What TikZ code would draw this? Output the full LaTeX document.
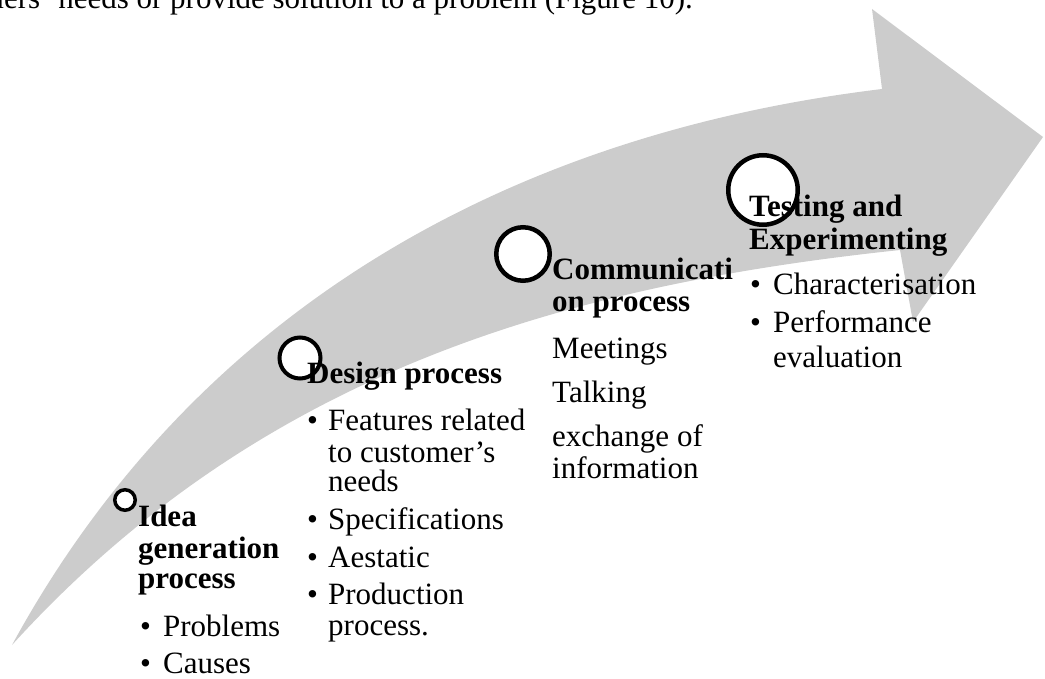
\documentclass[tikz,border=0pt]{standalone}
\usepackage{fontspec}
\setmainfont{Liberation Serif}
\definecolor{arrowgray}{RGB}{204,204,204}
\begin{document}
\begin{tikzpicture}[x=1pt,y=-1pt,
  txt/.style={anchor=base west, inner sep=0pt, font=\fontsize{31}{31}\selectfont},
  ttl/.style={txt, font=\fontsize{31}{31}\selectfont\bfseries},
  dot/.style={circle, draw=black, fill=white, inner sep=0pt}]
\useasboundingbox (0,0) rectangle (1045,679);
\clip (0,0) rectangle (1045,679);
% big curved arrow
\fill[arrowgray] (12,645) .. controls (192,315) and (502,135) .. (882,89)
  -- (872,9) -- (1043,137) -- (913,322) -- (900,250)
  .. controls (570,285) and (262,370) .. (12,645) -- cycle;
% circles
\node[dot, line width=3.5pt, minimum size=20.5pt] (c1) at (125,500) {};
\node[dot, line width=4pt, minimum size=41pt] (c2) at (300,358) {};
\node[dot, line width=4.5pt, minimum size=53.5pt] (c3) at (523,254) {};
\node[dot, line width=4.5pt, minimum size=69.5pt] (c4) at (763,190) {};
% top text line (cut at the top edge, as in the reference)
\node[txt, anchor=base east] (top) at (693,9) {customers’ needs or provide solution to a problem (Figure 10).};
% Idea generation
\node[ttl] (i1) at (138,526) {Idea};
\node[ttl] (i2) at (138,558) {generation};
\node[ttl] (i3) at (138,588) {process};
\node[txt] (i4) at (140,636) {\makebox[23pt][l]{\textbullet}Problems};
\node[txt] (i5) at (140,673) {\makebox[23pt][l]{\textbullet}Causes};
% Design
\node[ttl] (d1) at (307,383) {Design process};
\node[txt] (d2) at (307,430) {\makebox[21pt][l]{\textbullet}Features related};
\node[txt] (d3) at (328,462) {to customer’s};
\node[txt] (d4) at (328,491) {needs};
\node[txt] (d5) at (307,529) {\makebox[21pt][l]{\textbullet}Specifications};
\node[txt] (d6) at (307,567) {\makebox[21pt][l]{\textbullet}Aestatic};
\node[txt] (d7) at (307,604) {\makebox[21pt][l]{\textbullet}Production};
\node[txt] (d8) at (328,635) {process.};
% Communication
\node[ttl] (m1) at (552,280) {Communicati};
\node[ttl] (m2) at (552,312) {on process};
\node[txt] (m3) at (552,359) {Meetings};
\node[txt] (m4) at (552,402) {Talking};
\node[txt] (m5) at (552,446) {exchange of};
\node[txt] (m6) at (552,478) {information};
% Testing
\node[ttl] (t1) at (749,217) {Testing and};
\node[ttl] (t2) at (749,250) {Experimenting};
\node[txt] (t3) at (750,295) {\makebox[23pt][l]{\textbullet}Characterisation};
\node[txt] (t4) at (750,333) {\makebox[23pt][l]{\textbullet}Performance};
\node[txt] (t5) at (773,367) {evaluation};
\end{tikzpicture}
\end{document}
